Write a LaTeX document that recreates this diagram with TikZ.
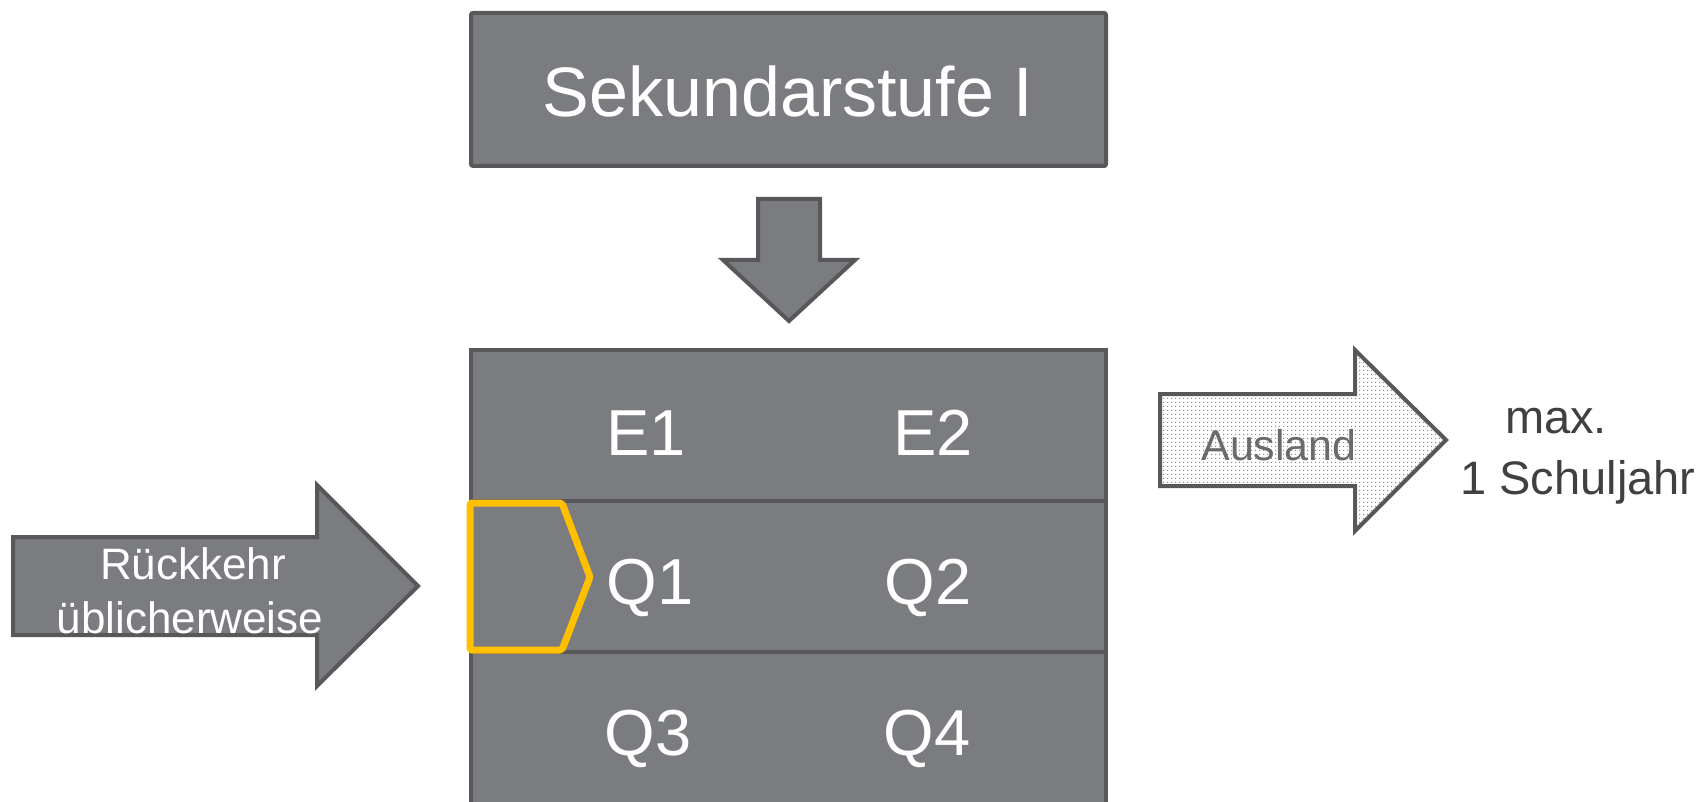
\documentclass[tikz,border=0pt]{standalone}
\usepackage{fontspec}
\setmainfont{Liberation Sans}
\usetikzlibrary{patterns.meta}
\definecolor{boxfill}{HTML}{7B7C80}
\definecolor{boxline}{HTML}{58585A}
\definecolor{hl}{HTML}{FFC000}
\definecolor{txtdark}{HTML}{404040}
\definecolor{txtgray}{HTML}{6A6A6A}
\begin{document}
\begin{tikzpicture}[x=1pt,y=-1pt,
  box/.style={fill=boxfill,draw=boxline,line width=4pt},
  bigtxt/.style={text=white,inner sep=0pt,anchor=base,font=\fontsize{70}{84}\selectfont},
  rowtxt/.style={text=white,inner sep=0pt,anchor=base,font=\fontsize{65}{78}\selectfont},
  arrtxt/.style={text=white,inner sep=0pt,anchor=base,font=\fontsize{44}{54}\selectfont},
  sidetxt/.style={text=txtdark,inner sep=0pt,anchor=base,font=\fontsize{47}{56}\selectfont},
  hlbox/.style={draw=hl,line width=7pt,rounded corners=2pt,line join=round}]
\useasboundingbox (0,0) rectangle (1697,802);
\clip (0,0) rectangle (1697,802);
% top box
\draw[box,rounded corners=2pt] (471,13) rectangle (1106,166);
\node[bigtxt] (sek) at (788,117) {Sekundarstufe I};
% down arrow
\draw[box,line join=miter] (758,199) -- (820,199) -- (820,260) -- (855,260) -- (789,321) -- (723,260) -- (758,260) -- cycle;
% stacked rows
\draw[box] (471,350) rectangle (1106,501);
\draw[box] (471,501) rectangle (1106,652);
\draw[box] (471,652) rectangle (1106,820);
\node[rowtxt] (e1) at (646,455) {E1};
\node[rowtxt] (e2) at (933,455) {E2};
\node[rowtxt] (q1) at (650,604) {Q1};
\node[rowtxt] (q2) at (928,604) {Q2};
\node[rowtxt] (q3) at (648,755) {Q3};
\node[rowtxt] (q4) at (927,755) {Q4};
% highlight
\draw[hlbox] (470,503) -- (562,503) -- (590,577) -- (562,650) -- (470,650) -- cycle;
% left arrow
\draw[box,line join=miter] (13,537) -- (317,537) -- (317,485) -- (418,586) -- (317,686) -- (317,635) -- (13,635) -- cycle;
\node[arrtxt] (rk1) at (193,579) {Rückkehr};
\node[arrtxt] (rk2) at (190,633) {üblicherweise};
% Ausland arrow
\draw[draw=boxline,line width=4pt,line join=miter,preaction={fill=white},
  pattern={Dots[distance=4pt,radius=0.9pt]},pattern color=gray!90]
  (1160,394) -- (1355,394) -- (1355,350) -- (1446,440) -- (1355,531) -- (1355,486) -- (1160,486) -- cycle;
\node[text=txtgray,inner sep=0pt,anchor=base,font=\fontsize{43}{52}\selectfont] (aus) at (1279,460) {Ausland};
% side text
\node[sidetxt] (max) at (1556,433) {max.};
\node[sidetxt] (sj) at (1578,494) {1 Schuljahr};
\end{tikzpicture}
\end{document}
